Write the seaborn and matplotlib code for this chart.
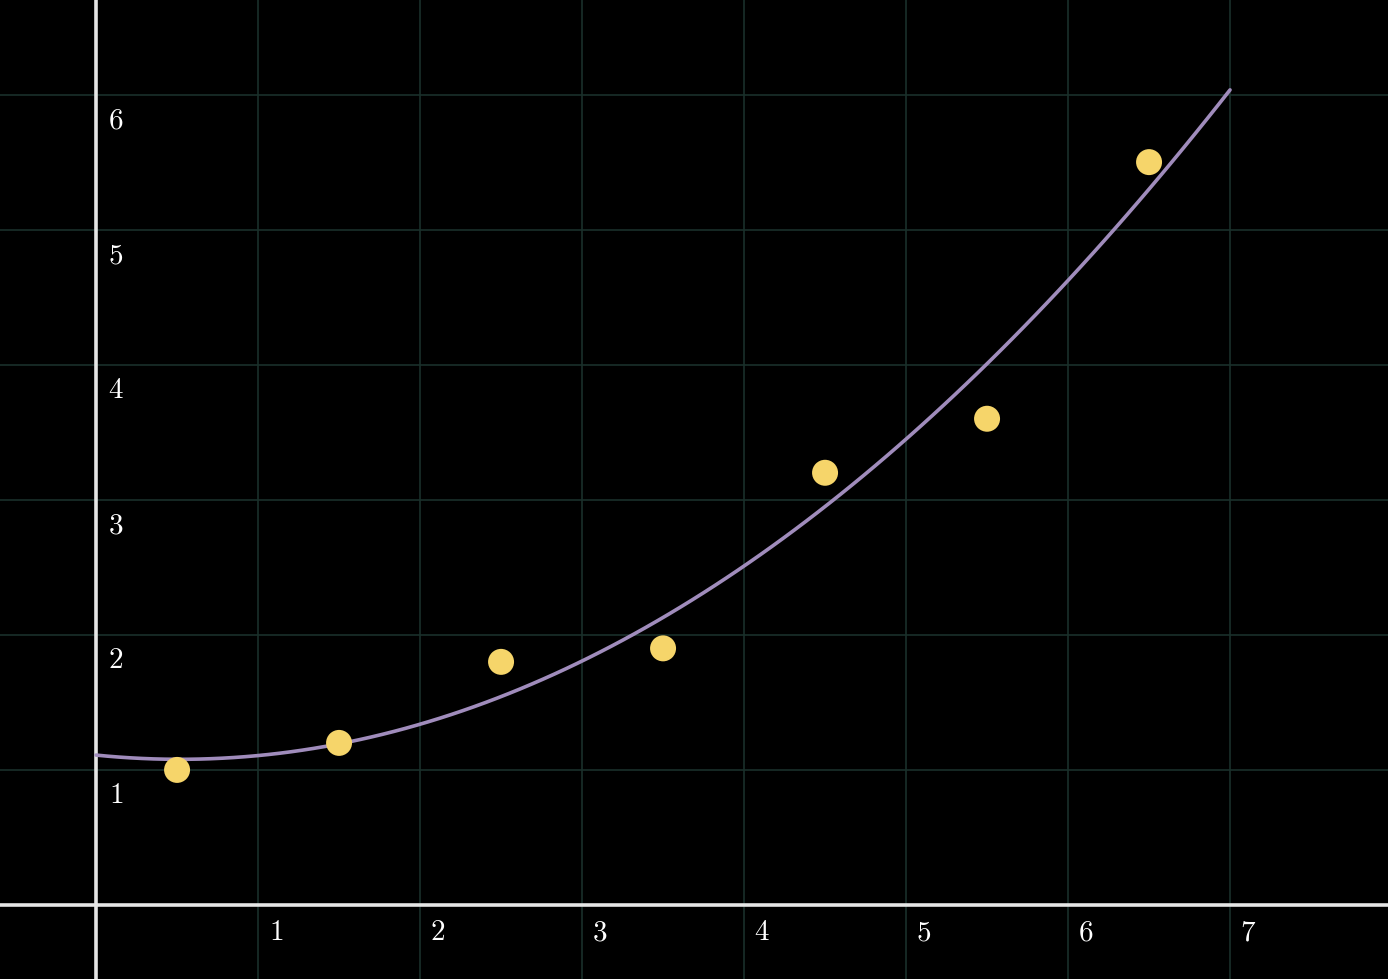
import numpy as np
import pandas as pd
import matplotlib
matplotlib.use("Agg")
import matplotlib.pyplot as plt
import seaborn as sns

# === DADOS ===
x_vals = [0.5, 1.5, 2.5, 3.5, 4.5, 5.5, 6.5]
y_vals = [1.0, 1.2, 1.8, 1.9, 3.2, 3.6, 5.5]
x_ticks = [1, 2, 3, 4, 5, 6, 7]
y_ticks = [1, 2, 3, 4, 5, 6]

df = pd.DataFrame({"x": x_vals, "y": y_vals})

# === ESTILO ===
sns.set_style("dark")
plt.rcParams["mathtext.fontset"] = "cm"

BG = "#000000"
GRID = "#1a302b"
AXIS = "#e6e6e6"
DOT = "#f6d56a"
CURVE = "#a08cbc"

fig = plt.figure(figsize=(13.88, 9.795), dpi=100, facecolor=BG)
ax = fig.add_axes([0, 0, 1, 1])
ax.set_facecolor(BG)

# curva ajustada (quadrática) de x=0 até x=7
ax.set_xlim(0, 7)
sns.regplot(data=df, x="x", y="y", order=2, ci=None, scatter=False,
            truncate=False, line_kws={"color": CURVE, "lw": 2.6, "zorder": 3}, ax=ax)

sns.scatterplot(data=df, x="x", y="y", s=350, color=DOT, edgecolor="none",
                zorder=4, ax=ax)

ax.set_xlim(-0.593, 7.975)
ax.set_ylim(-0.548, 6.704)

# grade
for v in range(-1, 9):
    if v != 0:
        ax.axvline(v, color=GRID, lw=1.2, zorder=1)
for v in range(-1, 8):
    if v != 0:
        ax.axhline(v, color=GRID, lw=1.2, zorder=1)

# eixos
ax.axhline(0, color=AXIS, lw=2.6, zorder=2)
ax.axvline(0, color=AXIS, lw=2.6, zorder=2)

# rótulos
for v in x_ticks:
    ax.text(v + 0.11, -0.2, f"${v}$", color="white", fontsize=21,
            ha="center", va="center", zorder=5)
for v in y_ticks:
    ax.text(0.123, v - 0.185, f"${v}$", color="white", fontsize=21,
            ha="center", va="center", zorder=5)

ax.set_xticks([])
ax.set_yticks([])
ax.set_xlabel("")
ax.set_ylabel("")
for s in ax.spines.values():
    s.set_visible(False)

fig.savefig("out.png", dpi=100, facecolor=BG)
